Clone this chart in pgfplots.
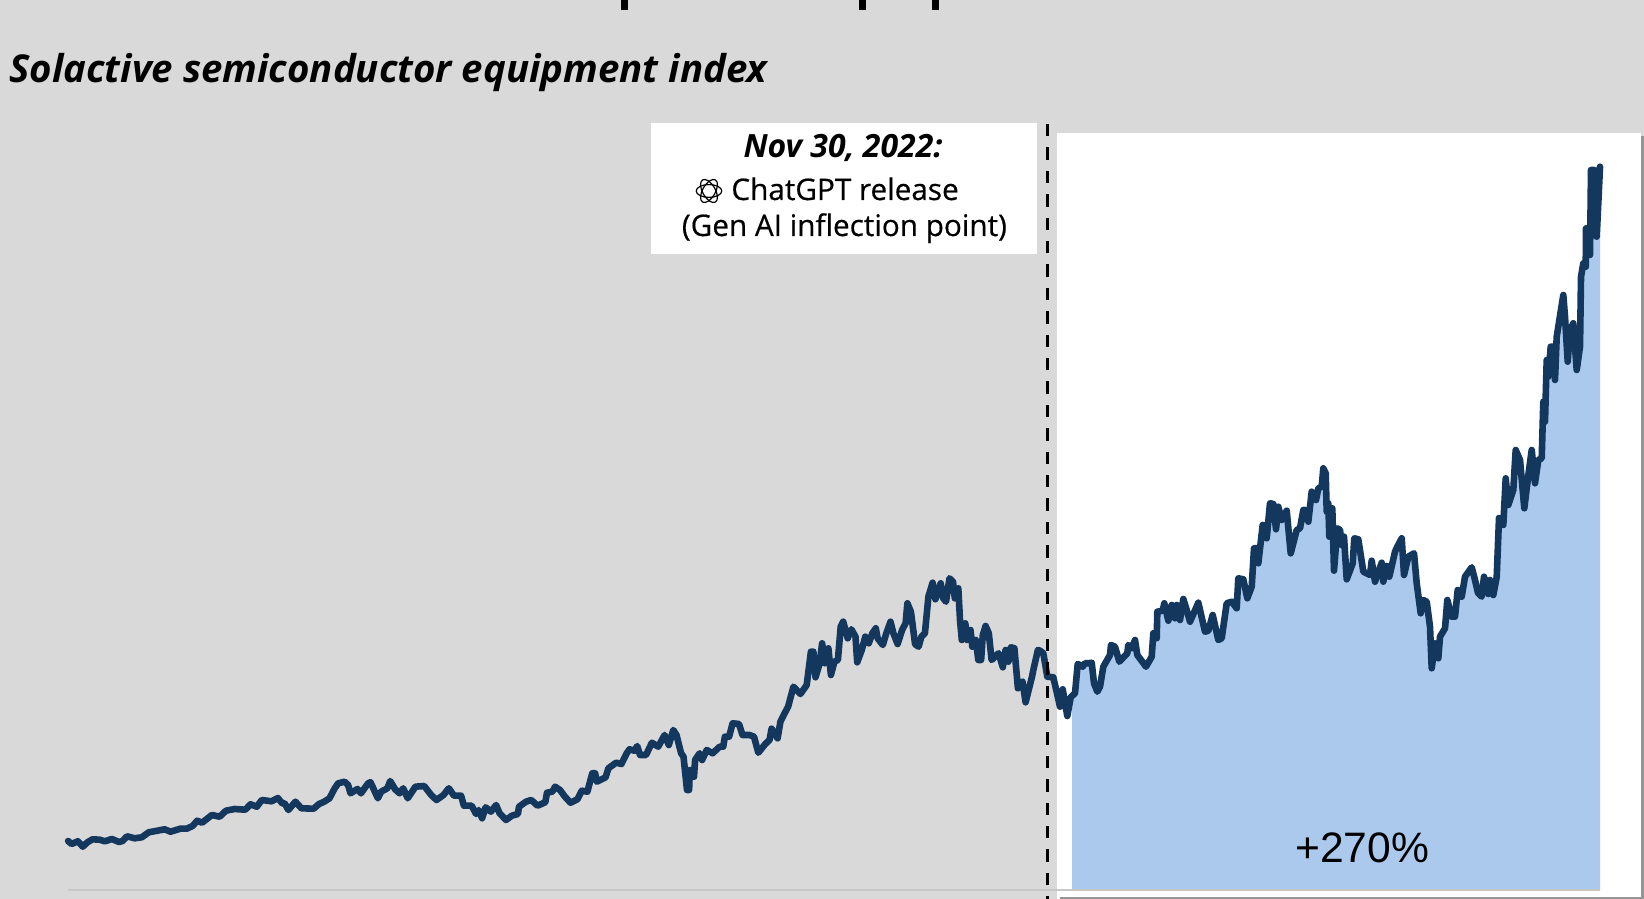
\documentclass[border=0pt]{standalone}
\usepackage{pgfplots}
\usepackage{pgfplotstable}
\usepackage{fontspec}
\pgfplotsset{compat=1.18}
\setmainfont{Open Sans}[Ligatures=NoCommon]
\newfontfamily\med{Open Sans}[FakeBold=0.5,Ligatures=NoCommon]
\newfontfamily\helv{Liberation Sans}
\definecolor{bg}{HTML}{D9D9D9}
\definecolor{linecol}{HTML}{14375E}
\definecolor{fillcol}{HTML}{ABC9EC}
\pgfplotstableread{
x y
68.1 49
71.6 46
77.9 48.7
82.8 43.3
87.4 47.7
92.6 50.7
99.6 50.3
104.9 48.7
111.9 51
119 48
122.5 49
127 53.7
134.7 51.7
141.8 52.7
148.8 57.7
155.8 59
164.6 60.7
170.5 58.3
180.4 61.3
186.7 61.3
192.6 64
197.2 69.3
202.1 67.3
211.9 75
219.6 73.3
226 79.3
234.7 81
245.3 80.3
250.5 85.7
256.8 83.3
261.8 90
271.6 88.7
277.9 92
282.1 86.7
284.6 86.7
288.4 80
295.4 88.3
301.4 81.7
313.7 81.3
319 86
324.2 88.3
329.5 91.7
334.7 101.7
338.2 106.7
344.6 108.3
348.1 105
350.5 96.7
357.5 101
361 96.7
368.1 106.7
370.5 107.7
373.3 101.7
377.9 91.7
381.1 98.3
387.4 101.7
390.2 109
395.1 100.7
399.6 96.7
403.2 101.7
407.7 91.7
415.4 103.3
424.2 104
431.2 95
436.5 90
443.5 95
448.8 101.7
454 94.3
461.1 94.3
463.9 84.3
471.6 84.3
476.1 76
478.6 80
482.1 71.7
485.6 82.7
490.9 78.3
496.1 85
499.6 76.7
506 70
511.9 74.3
517.9 76
519 83.3
526 88.3
531.2 90
537.5 84.3
545.3 87.7
547 97.3
552.3 98.3
555.1 103.3
560 100
564.9 93.3
570.5 87.3
577.5 90.7
581.8 99.3
587.4 98.3
590.9 111.7
592.3 116.7
595.1 116.7
596.8 108.3
605.6 112.7
608.4 121.7
616.1 127.3
621.4 126
626.7 136.7
629.5 140.7
634.4 139.3
637.2 144
640 135
646 135
651.9 147.3
658.2 143.3
664.6 155
668.8 145
673.3 160
676.5 155
681.1 136.7
683.5 133.3
687 100
689.1 100
689.8 120
694 113.3
695.1 130
699.6 136.7
702.1 130
706.7 140
712.6 136.7
719.7 143.3
723.2 143.3
724.9 153.3
729.1 153.3
732.6 166.7
739 166
742.5 155
749.5 155
754 153.3
758.3 137.3
765.3 146
769.5 150
771.6 161.3
777.6 151.7
780.4 168.3
784.6 176.7
788.1 183.3
793.4 203.3
800.4 196
806.7 205
810.9 238.3
813.4 238.3
815.5 212.7
819.7 226.7
822.1 246.7
824.9 226.7
828.4 241.7
830.9 215
834.4 228.3
837.9 230
840.7 263.3
843.2 268.3
847.7 251.7
851.3 260.7
855.5 253.3
857.2 227.7
861.8 240
865.3 253.3
868.8 246.7
872.3 256.7
875.8 261.7
877.6 251.7
882.8 245
886.3 256.7
890.5 268.3
893.4 256.7
897.6 246
902.1 260
905.6 266.7
907.4 286.7
910.9 278.3
915.1 245.7
918.6 243.3
921.4 253.3
924.9 256.7
928.4 293.3
932.6 307.3
935.4 290.7
940.7 306.7
943.2 291.7
946 288.3
949.5 311.7
953 308.3
954.8 291.7
958.3 301.7
960 270
961.8 250
965.3 266.7
967 250
970.5 260
972.3 243.3
975.8 250
978.3 230
981.1 230
982.8 255
985.6 264
988.8 256.7
991.6 230
998.6 236.7
1002.8 222.7
1005.6 240
1008.4 228.3
1010.9 242.7
1014.4 241.7
1017.9 201.7
1022.5 208.3
1025.6 187.7
1032 213.3
1033.7 221.7
1037.9 240
1040 239.3
1043.3 236.7
1047.3 213.3
1053.3 212.7
1060 183.3
1062.7 200.7
1067.3 174
1070.7 192.7
1072 194
1075 196.7
1077.7 226
1082.7 223.3
1085 226.7
1088.3 226.7
1091.7 227.3
1094 206.7
1097.3 198.3
1100 203.3
1103.3 223.3
1110 235
1111 245
1115 243.3
1119.3 228.3
1127.3 236.7
1128.3 245
1131.7 241.7
1135 250
1137.3 235
1146 223.3
1151.7 233.3
1153.3 256.7
1156.7 251.7
1157.3 278.3
1162.7 279.3
1164.3 286.7
1168.3 269.3
1171.7 285
1175 271.7
1176.7 285
1180 270
1183.3 291
1186.7 280
1190 268.3
1198.3 287.3
1205 258.3
1208.3 259.3
1212.7 275
1218.3 250
1221.7 251.7
1226.7 286.7
1231.7 288.3
1236.7 281.7
1238.3 311.7
1243.3 310.7
1247.3 291.7
1251.7 303.3
1254 341.7
1256.7 341.7
1258.3 326.7
1262.7 365
1266.7 351.7
1270 386.7
1273.3 386
1276 360.7
1278.3 383.3
1281.7 370
1286.7 379.3
1290.7 336.7
1296.7 360
1300 361.7
1303.3 380
1305 380
1308.3 368.3
1311.7 398.3
1316 390
1318.3 401.7
1321.7 403.3
1323.3 421.7
1325.7 416.7
1326.7 378.3
1328.3 386.7
1329.3 353.3
1332.3 381.7
1334 319.3
1337.3 361.7
1340 360
1341.7 345
1344 353.3
1346.7 310.7
1352.7 326.7
1354.3 351.7
1358.3 350.7
1363.3 318.3
1370 315
1371.7 329.3
1375 308.3
1381.7 327.3
1383.3 308.3
1386.7 324
1389.3 313.3
1395 338.3
1397.3 343.3
1401.7 351.7
1404 315
1408.3 333.3
1414 336.7
1416.7 306.7
1420.7 276.7
1423.3 290
1426.7 288.3
1430 263.3
1431.7 221.7
1435 246.7
1438.3 231.7
1440 253.3
1445 261.7
1447.3 290
1451.7 273.3
1455 273.3
1457.7 300
1461.7 293.3
1465 313.3
1471.7 322.7
1475 310
1478 297
1481.7 293.3
1484 313.3
1488.3 296
1490 310
1493.3 295
1496.7 313
1499 372
1503.3 365
1505.7 411.7
1508.3 385
1513.3 400
1515.7 440
1520 430
1524.3 381.7
1527.7 410
1531.7 440
1535 406.7
1538.3 430
1541.7 431.7
1543.3 488.3
1545 468.3
1546.7 530
1548.3 513.3
1550.7 543.3
1553.3 543.3
1555 510
1556.7 553.3
1563.3 595
1565 573.3
1567.7 528.3
1570 560
1573.3 566.7
1576.7 520
1580 543.3
1581 613.3
1583.3 626.7
1585.7 623.3
1586 661.7
1589 661.7
1590 635
1591 720
1594.3 720
1596.7 653.3
1600 723.3
}\indexdata
\begin{document}
\begin{tikzpicture}
\begin{axis}[
  scale only axis, width=822pt, height=449.5pt,
  xmin=0, xmax=1644, ymin=-9, ymax=890,
  hide axis, clip=true,
]
% backdrop and panels
\fill[bg] (axis cs:0,-9) rectangle (axis cs:1644,890);
\fill[white] (axis cs:1057,-9) rectangle (axis cs:1641,757);
\fill[black!42] (axis cs:1641,-9) rectangle (axis cs:1644,754);
\fill[black!42] (axis cs:1060,-9) rectangle (axis cs:1644,-7.5);
% top remnants
\fill[black] (axis cs:620.5,880) rectangle (axis cs:627.5,890);
\fill[black] (axis cs:858.5,880) rectangle (axis cs:865.5,890);
\fill[black] (axis cs:931.5,880) rectangle (axis cs:938.5,890);
% area since release
\addplot[fill=fillcol, draw=none, restrict x to domain=1072:1600] table[x=x,y=y] {\indexdata} \closedcycle;
% baseline
\draw[color=black!22, line width=1pt] (axis cs:68,0) -- (axis cs:1600,0);
% line
\addplot[color=linecol, line width=3.3pt, line join=round, line cap=round] table[x=x,y=y] {\indexdata};
% annotation box and release line
\fill[white] (axis cs:650.5,636) rectangle (axis cs:1037,767);
\draw[black, line width=1.5pt, dash pattern=on 6.25pt off 5.45pt] (axis cs:1047.5,766) -- (axis cs:1047.5,-9);
% text
\node[anchor=base west, inner sep=0pt, font=\fontsize{19.2}{20}\selectfont\bfseries\itshape] at (axis cs:9,807) {Solactive semiconductor equipment index};
\node[anchor=base, inner sep=0pt, font=\fontsize{16}{17}\selectfont\bfseries\itshape] at (axis cs:843,732) {Nov 30, 2022:};
\node[anchor=base west, inner sep=0pt, font=\med\fontsize{14.85}{15}\selectfont] at (axis cs:731,690) {ChatGPT release};
\node[anchor=base west, inner sep=0pt, font=\med\fontsize{14.85}{15}\selectfont] at (axis cs:681.5,654) {(Gen AI inflection point)};
\node[anchor=base west, inner sep=0pt, font=\helv\fontsize{21.3}{21.3}\selectfont] at (axis cs:1295,27) {+270\%};
% logo
\draw[black, line width=0.6pt, rotate around={0:(axis cs:709,699)}] (axis cs:709,699) ellipse [x radius=6.4pt, y radius=3.2pt];
\draw[black, line width=0.6pt, rotate around={60:(axis cs:709,699)}] (axis cs:709,699) ellipse [x radius=6.4pt, y radius=3.2pt];
\draw[black, line width=0.6pt, rotate around={120:(axis cs:709,699)}] (axis cs:709,699) ellipse [x radius=6.4pt, y radius=3.2pt];
\end{axis}
\end{tikzpicture}
\end{document}
